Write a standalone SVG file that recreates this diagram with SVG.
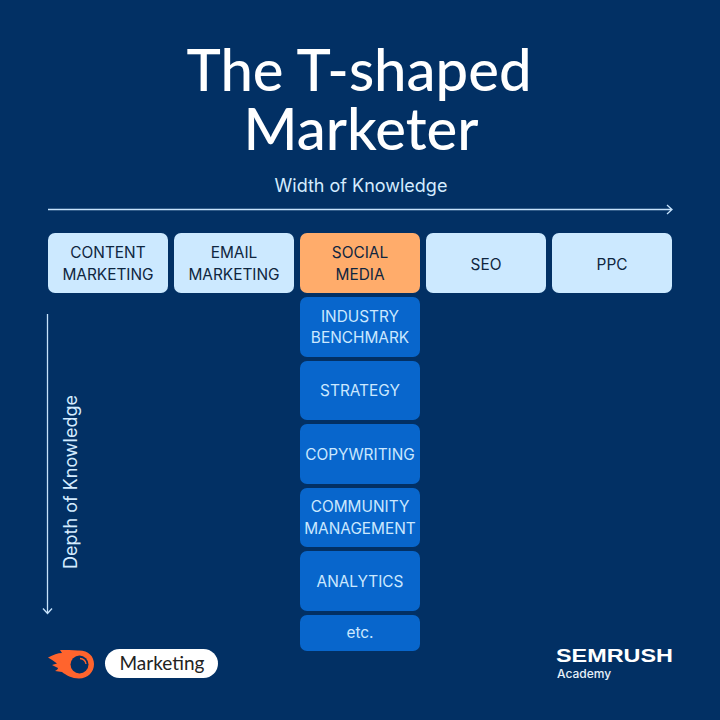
<svg xmlns="http://www.w3.org/2000/svg" width="720" height="720" viewBox="0 0 720 720">
<style>
.t{font-family:Inter,"Liberation Sans",sans-serif;font-size:15.4px;text-anchor:middle}
.d{fill:#0f2640}.l{fill:#cbe8ff}
.lb{fill:#cce9ff}.or{fill:#ffac6b}.bl{fill:#0866cc}
.ln{fill:none;stroke:#c6e2fb;stroke-width:1.3}
.h{font-family:Lato,"Open Sans",sans-serif;font-size:58px;fill:#fff;text-anchor:middle;font-weight:500}
.s{font-family:Inter,"Liberation Sans",sans-serif;font-size:18px;fill:#d4ecff;text-anchor:middle}
</style>
<rect width="720" height="720" fill="#023064"/>
<g id="title"><text class="h" x="359" y="91">The T-shaped</text><text class="h" x="361" y="150">Marketer</text></g>
<g id="connectors">
<path class="ln" d="M48 209.500H672M667 205l5 4.500-5 4.500"/>
<path class="ln" d="M47.500 314V613M43 608.500l4.500 5 4.500-5"/>
</g>
<text class="s" x="361" y="192">Width of Knowledge</text>
<text class="s" transform="translate(77 482) rotate(-90)">Depth of Knowledge</text>
<g id="n-content"><rect class="lb" x="48" y="233" width="120" height="60" rx="7"/><text class="t d" x="108" y="258">CONTENT</text><text class="t d" x="108" y="279.500">MARKETING</text></g>
<g id="n-email"><rect class="lb" x="174" y="233" width="120" height="60" rx="7"/><text class="t d" x="234" y="258">EMAIL</text><text class="t d" x="234" y="279.500">MARKETING</text></g>
<g id="n-social"><rect class="or" x="300" y="233" width="120" height="60" rx="7"/><text class="t d" x="360" y="258">SOCIAL</text><text class="t d" x="360" y="279.500">MEDIA</text></g>
<g id="n-seo"><rect class="lb" x="426" y="233" width="120" height="60" rx="7"/><text class="t d" x="486" y="269.500">SEO</text></g>
<g id="n-ppc"><rect class="lb" x="552" y="233" width="120" height="60" rx="7"/><text class="t d" x="612" y="269.500">PPC</text></g>
<g id="n-benchmark"><rect class="bl" x="300" y="297" width="120" height="60" rx="7"/><text class="t l" x="360" y="321.500">INDUSTRY</text><text class="t l" x="360" y="343">BENCHMARK</text></g>
<g id="n-strategy"><rect class="bl" x="300" y="361" width="120" height="59" rx="7"/><text class="t l" x="360" y="396">STRATEGY</text></g>
<g id="n-copy"><rect class="bl" x="300" y="424" width="120" height="60" rx="7"/><text class="t l" x="360" y="459.500">COPYWRITING</text></g>
<g id="n-community"><rect class="bl" x="300" y="488" width="120" height="59" rx="7"/><text class="t l" x="360" y="512">COMMUNITY</text><text class="t l" x="360" y="533.500">MANAGEMENT</text></g>
<g id="n-analytics"><rect class="bl" x="300" y="551" width="120" height="60" rx="7"/><text class="t l" x="360" y="586.500">ANALYTICS</text></g>
<g id="n-etc"><rect class="bl" x="300" y="615" width="120" height="36" rx="7"/><text class="t l" x="360" y="638">etc.</text></g>
<g id="logo-flame">
<path fill="#ff642d" d="M48 657.500C53 655 58 653 62 653L60 650C66 650 72 650 78 650.500C88 650 94 656 94 664C94 672 88 678.500 79 678.500C72 678.500 66 675 62 672L55 671C57 670 58 669 58 668L52 665L57 663.500C54 661 51 659 48 657.500Z"/>
<circle cx="79.500" cy="664.500" r="9" fill="#023064"/>
<path d="M80 658.500a6.500 6.500 0 0 1 6 5.500" fill="none" stroke="#ff642d" stroke-width="1.300"/>
</g>
<g id="tag"><rect x="105" y="649" width="113" height="29" rx="14.500" fill="#fff"/><text x="162" y="670" font-family="Lato,'Open Sans',sans-serif" font-size="19" fill="#222" text-anchor="middle">Marketing</text></g>
<g id="brand">
<text x="556" y="662" font-family="Liberation Sans,Arial,sans-serif" font-weight="700" font-size="18.500" fill="#fff" textLength="117" lengthAdjust="spacingAndGlyphs">SEMRUSH</text>
<text x="557" y="678" font-family="Inter,Liberation Sans,sans-serif" font-weight="500" font-size="12" fill="#e6f0fa">Academy</text>
</g>
</svg>
